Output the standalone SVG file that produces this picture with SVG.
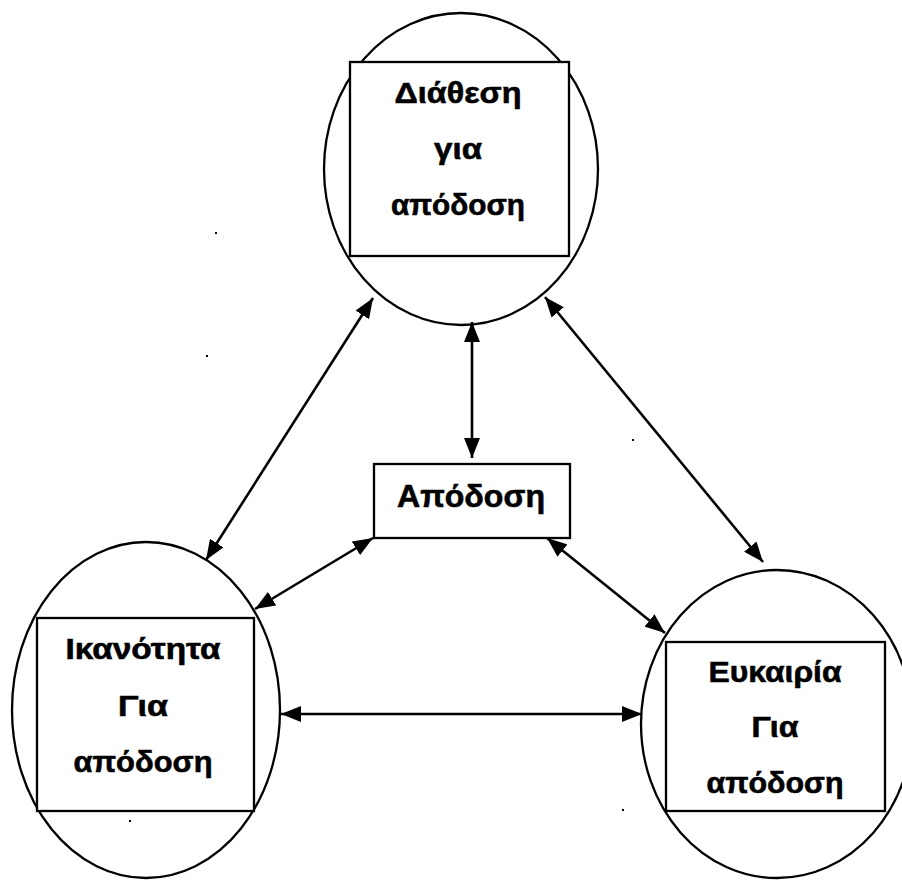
<svg xmlns="http://www.w3.org/2000/svg" width="902" height="880" viewBox="0 0 902 880">
<style>
.shape{fill:none;stroke:#000;stroke-width:2.3}
.box{fill:#fff;stroke:#000;stroke-width:2.3}
.lbl{font-family:"Liberation Sans",Arial,sans-serif;font-weight:bold;font-size:30px;fill:#000;stroke:#000;stroke-width:0.6;text-anchor:middle}
.big{font-size:32px}
.conn{stroke:#000;stroke-width:2.6;fill:none;marker-start:url(#ah);marker-end:url(#ah)}
</style>
<defs>
<marker id="ah" viewBox="0 0 20 16" refX="20" refY="8" markerWidth="20" markerHeight="16" orient="auto-start-reverse" markerUnits="userSpaceOnUse">
<path d="M0,0 L20,8 L0,16 z" fill="#000"/>
</marker>
</defs>
<rect width="902" height="880" fill="#fff"/>
<g id="top">
<ellipse class="shape" cx="461" cy="169" rx="137" ry="156"/>
<rect class="box" x="350" y="62" width="219" height="194"/>
<text class="lbl" x="458" y="103" textLength="127" lengthAdjust="spacingAndGlyphs">Διάθεση</text>
<text class="lbl" x="458" y="159" textLength="48" lengthAdjust="spacingAndGlyphs">για</text>
<text class="lbl" x="458" y="215" textLength="134" lengthAdjust="spacingAndGlyphs">απόδοση</text>
</g>
<g id="center">
<rect class="box" x="374" y="464" width="196" height="74"/>
<text class="lbl big" x="471" y="507" textLength="148" lengthAdjust="spacingAndGlyphs">Απόδοση</text>
</g>
<g id="left">
<ellipse class="shape" cx="146" cy="710" rx="134" ry="168"/>
<rect class="box" x="37" y="618" width="217" height="193"/>
<text class="lbl" x="143" y="659" textLength="155" lengthAdjust="spacingAndGlyphs">Ικανότητα</text>
<text class="lbl" x="143" y="716" textLength="50" lengthAdjust="spacingAndGlyphs">Για</text>
<text class="lbl" x="143" y="772" textLength="139" lengthAdjust="spacingAndGlyphs">απόδοση</text>
</g>
<g id="right">
<ellipse class="shape" cx="777" cy="724" rx="136" ry="154"/>
<rect class="box" x="666" y="642" width="219" height="169"/>
<text class="lbl" x="775" y="682" textLength="133" lengthAdjust="spacingAndGlyphs">Ευκαιρία</text>
<text class="lbl" x="775" y="737" textLength="47" lengthAdjust="spacingAndGlyphs">Για</text>
<text class="lbl" x="775" y="793" textLength="137" lengthAdjust="spacingAndGlyphs">απόδοση</text>
</g>
<g id="connectors">
<line class="conn" x1="373" y1="298" x2="206" y2="560"/>
<line class="conn" x1="472" y1="322" x2="472" y2="458"/>
<line class="conn" x1="545" y1="297" x2="763" y2="562"/>
<line class="conn" x1="373" y1="538" x2="255" y2="609"/>
<line class="conn" x1="547" y1="538" x2="665" y2="633"/>
<line class="conn" x1="281" y1="714" x2="642" y2="714"/>
</g>
<g id="specks" fill="#000">
<rect x="215" y="232" width="2" height="2"/>
<rect x="206" y="355" width="2" height="2"/>
<rect x="632" y="439" width="2" height="2"/>
<rect x="129" y="820" width="2" height="2"/>
<rect x="622" y="809" width="2" height="2"/>
</g>
</svg>
